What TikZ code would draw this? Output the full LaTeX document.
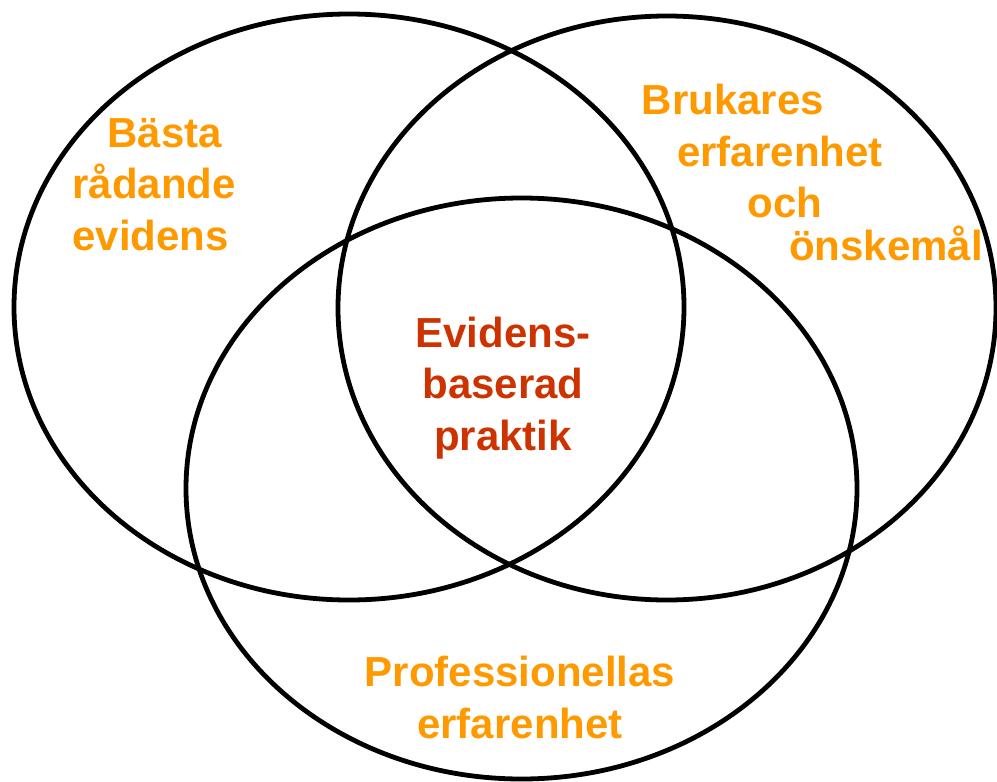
\documentclass[tikz,border=0pt]{standalone}
\usepackage{fontspec}
\setmainfont{Liberation Sans}
\usetikzlibrary{positioning}

\definecolor{orangeC}{HTML}{FF9900}
\definecolor{redC}{HTML}{CC3300}

\begin{document}
\begin{tikzpicture}[x=0.5pt, y=-0.5pt]
    \tikzstyle{venn} = [draw, line width=2.4pt]
    \tikzstyle{label} = [text=orangeC, font=\bfseries\fontsize{21}{25.75}\selectfont, align=center, inner sep=0pt, anchor=base]
    \tikzstyle{core} = [label, text=redC]

    \useasboundingbox (0,0) rectangle (997,782);

    \draw [venn] (349,307) ellipse [x radius=335, y radius=293];
    \draw [venn] (667,308) ellipse [x radius=329, y radius=292];
    \draw [venn] (521.5,488.5) ellipse [x radius=335.5, y radius=290.5];

    \node [label, align=left, anchor=base west] (basta) at (72,250) {\hspace*{17.5pt}Bästa\\rådande\\evidens};
    \node [label] (brukares) at (733,114) {Brukares};
    \node [label] (erfarenhet) at (780,166) {erfarenhet};
    \node [label] (och) at (785,217) {och};
    \node [label] (onskemal) at (886,260) {önskemål};
    \node [core] (praktik) at (503,450) {Evidens-\\baserad\\praktik};
    \node [label] (profession) at (520,738) {Professionellas\\erfarenhet};
\end{tikzpicture}
\end{document}
